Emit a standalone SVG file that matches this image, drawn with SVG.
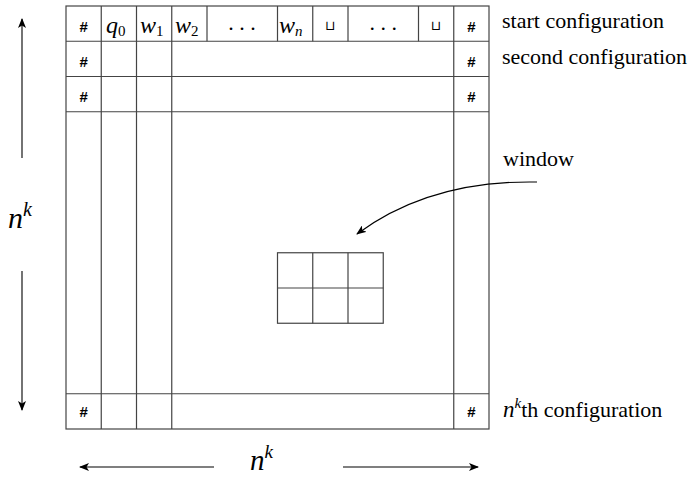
<svg xmlns="http://www.w3.org/2000/svg" width="694" height="477" viewBox="0 0 694 477" font-family="'Liberation Serif', serif">
<defs>
<marker id="ah" viewBox="0 0 10 8" refX="9" refY="4" markerWidth="10" markerHeight="8" markerUnits="userSpaceOnUse" orient="auto">
<path d="M0,0 L10,4 L0,8 L2.5,4 z" fill="#000"/>
</marker>
</defs>
<g id="grid" stroke="#444" stroke-width="1.2" fill="none">
<rect x="66" y="6" width="423" height="423"/>
<path d="M66,41.25H489M66,76.5H489M66,111.75H489M66,393.75H489"/>
<path d="M101.25,6V429M136.5,6V429M171.75,6V429M453.75,6V429"/>
<path d="M207,6V41.25M277.5,6V41.25M312.75,6V41.25M348,6V41.25M418.5,6V41.25"/>
</g>
<g id="row1">
<text font-family="'Liberation Sans', sans-serif" font-weight="bold" font-size="15" text-anchor="middle" x="83.6" y="32">#</text>
<text font-family="'Liberation Serif', serif" font-style="italic" font-size="24" x="106" y="33">q<tspan font-style="normal" font-size="15" dy="3">0</tspan></text>
<text font-family="'Liberation Serif', serif" font-style="italic" font-size="24" x="140" y="33">w<tspan font-style="normal" font-size="15" dy="3">1</tspan></text>
<text font-family="'Liberation Serif', serif" font-style="italic" font-size="24" x="175" y="33">w<tspan font-style="normal" font-size="15" dy="3">2</tspan></text>
<text font-family="'Liberation Serif', serif" font-size="22" text-anchor="middle" x="242" y="30">. . .</text>
<text font-family="'Liberation Serif', serif" font-style="italic" font-size="24" x="279" y="33">w<tspan font-size="15" dy="3">n</tspan></text>
<text font-family="'DejaVu Sans', sans-serif" font-size="13" text-anchor="middle" x="330.4" y="30">&#x2294;</text>
<text font-family="'Liberation Serif', serif" font-size="22" text-anchor="middle" x="383.2" y="30">. . .</text>
<text font-family="'DejaVu Sans', sans-serif" font-size="13" text-anchor="middle" x="436" y="30">&#x2294;</text>
<text font-family="'Liberation Sans', sans-serif" font-weight="bold" font-size="15" text-anchor="middle" x="471.4" y="32">#</text>
</g>
<g id="row2" font-family="'Liberation Sans', sans-serif" font-weight="bold" font-size="15" text-anchor="middle">
<text x="83.6" y="67">#</text>
<text x="471.4" y="67">#</text>
</g>
<g id="row3" font-family="'Liberation Sans', sans-serif" font-weight="bold" font-size="15" text-anchor="middle">
<text x="83.6" y="102">#</text>
<text x="471.4" y="102">#</text>
</g>
<g id="rowlast" font-family="'Liberation Sans', sans-serif" font-weight="bold" font-size="15" text-anchor="middle">
<text x="83.6" y="417">#</text>
<text x="471.4" y="417">#</text>
</g>
<g id="window" stroke="#444" stroke-width="1.2" fill="none">
<rect x="277.5" y="252.75" width="105.75" height="70.5"/>
<path d="M277.5,288H383.25M312.75,252.75V323.25M348,252.75V323.25"/>
</g>
<g id="labels" font-family="'Liberation Serif', serif" font-size="22">
<text x="502" y="28">start configuration</text>
<text x="502" y="64">second configuration</text>
<text x="503" y="166">window</text>
<text x="503" y="417"><tspan font-style="italic" font-size="23">n</tspan><tspan font-style="italic" font-size="15" dy="-9">k</tspan><tspan dy="9">th configuration</tspan></text>
<text font-style="italic" font-size="30" x="8" y="228">n<tspan font-size="20" dy="-12">k</tspan></text>
<text font-style="italic" font-size="29" x="250" y="470">n<tspan font-size="19" dy="-12">k</tspan></text>
</g>
<g id="connectors" stroke="#000" stroke-width="1.1" fill="none">
<path d="M22,158V19" marker-end="url(#ah)"/>
<path d="M22,271V410" marker-end="url(#ah)"/>
<path d="M214,467H80" marker-end="url(#ah)"/>
<path d="M343,467H478" marker-end="url(#ah)"/>
<path d="M537,182Q430,180 357,234" marker-end="url(#ah)"/>
</g>
</svg>
